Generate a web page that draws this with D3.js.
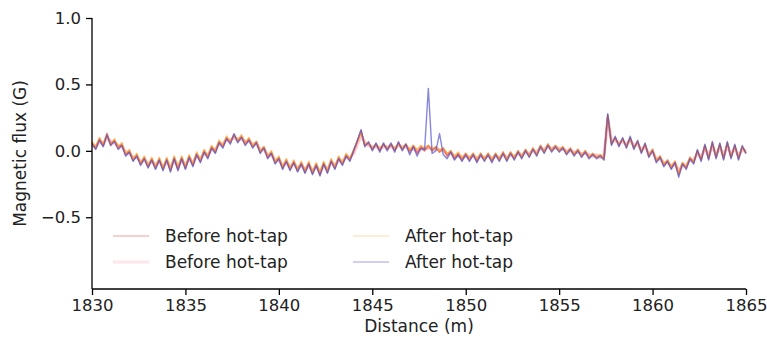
<!DOCTYPE html>
<html>
<head>
<meta charset="utf-8">
<script src="https://cdn.jsdelivr.net/npm/d3@7"></script>
<style>
  body { margin: 0; background: #fff; }
  svg { display: block; font-family: "DejaVu Sans", sans-serif; }
</style>
</head>
<body>
<div id="chart"></div>
<script>
// distance grid: first sample, spacing (m)
var startDist = 1830.0, stepDist = 0.2;

var xTicks = [1830, 1835, 1840, 1845, 1850, 1855, 1860, 1865];
var yTicks = [-0.5, 0.0, 0.5, 1.0];

var seriesNames = ["Before hot-tap", "Before hot-tap", "After hot-tap", "After hot-tap"];

// one value per 0.2 m
var before1 = [0.06,0.02,0.09,0.04,0.13,0.05,0.08,0.02,0.05,-0.03,
0.0,-0.07,-0.03,-0.10,-0.05,-0.12,-0.06,-0.13,-0.06,-0.14,
-0.06,-0.15,-0.05,-0.14,-0.05,-0.13,-0.04,-0.11,-0.02,-0.08,
0.0,-0.05,0.03,-0.01,0.07,0.03,0.10,0.06,0.12,0.07,
0.11,0.05,0.09,0.03,0.07,-0.01,0.03,-0.05,-0.01,-0.09,
-0.05,-0.13,-0.07,-0.14,-0.08,-0.15,-0.09,-0.16,-0.09,-0.17,
-0.10,-0.18,-0.09,-0.16,-0.07,-0.13,-0.05,-0.10,-0.03,-0.07,
0.0,0.07,0.15,0.04,0.06,0.01,0.05,0.0,0.05,0.01,
0.05,0.0,0.06,0.01,0.05,-0.01,0.04,-0.02,0.03,0.0,
0.04,0.0,0.03,-0.01,0.02,-0.04,0.0,-0.06,-0.02,-0.07,
-0.02,-0.07,-0.02,-0.08,-0.02,-0.07,-0.02,-0.08,-0.02,-0.07,
-0.01,-0.07,-0.01,-0.06,0.0,-0.05,0.01,-0.04,0.02,-0.03,
0.04,-0.01,0.05,0.0,0.04,0.0,0.03,-0.02,0.02,-0.03,
0.01,-0.04,0.0,-0.05,-0.02,-0.05,-0.03,-0.06,0.27,0.05,
0.10,0.04,0.09,0.03,0.10,0.02,0.07,-0.01,0.05,-0.04,
0.01,-0.08,-0.04,-0.11,-0.07,-0.13,-0.08,-0.18,-0.09,-0.13,
-0.05,-0.09,0.0,-0.07,0.04,-0.06,0.06,-0.05,0.05,-0.06,
0.06,-0.05,0.04,-0.06,0.03,-0.02];

var before2 = [0.04,0.03,0.07,0.05,0.10,0.07,0.06,0.04,0.03,-0.01,
-0.02,-0.05,-0.05,-0.08,-0.07,-0.10,-0.08,-0.11,-0.08,-0.12,
-0.08,-0.13,-0.07,-0.12,-0.07,-0.11,-0.06,-0.09,-0.04,-0.06,
-0.02,-0.03,0.01,0.01,0.05,0.05,0.08,0.08,0.10,0.09,
0.09,0.07,0.07,0.05,0.05,0.01,0.01,-0.03,-0.03,-0.07,
-0.07,-0.11,-0.09,-0.12,-0.10,-0.13,-0.11,-0.14,-0.11,-0.15,
-0.12,-0.16,-0.11,-0.14,-0.09,-0.11,-0.07,-0.08,-0.05,-0.05,
-0.02,0.05,0.12,0.06,0.04,0.03,0.03,0.02,0.03,0.03,
0.03,0.02,0.04,0.03,0.03,0.01,0.02,0.0,0.01,0.02,
0.02,0.02,0.01,0.01,0.0,-0.02,-0.02,-0.04,-0.04,-0.05,
-0.04,-0.05,-0.04,-0.06,-0.04,-0.05,-0.04,-0.06,-0.04,-0.05,
-0.03,-0.05,-0.03,-0.04,-0.02,-0.03,-0.01,-0.02,0.0,-0.01,
0.02,0.01,0.03,0.02,0.02,0.02,0.01,0.0,0.0,-0.01,
-0.01,-0.02,-0.02,-0.03,-0.04,-0.03,-0.05,-0.04,0.24,0.07,
0.08,0.06,0.07,0.05,0.08,0.04,0.05,0.01,0.03,-0.02,
-0.01,-0.06,-0.06,-0.09,-0.09,-0.11,-0.10,-0.15,-0.11,-0.11,
-0.07,-0.07,-0.02,-0.05,0.02,-0.04,0.04,-0.03,0.03,-0.04,
0.04,-0.03,0.02,-0.04,0.01,0.0];

var after1 = [0.07,0.03,0.10,0.05,0.12,0.04,0.09,0.03,0.06,-0.02,
0.01,-0.06,-0.02,-0.09,-0.04,-0.11,-0.05,-0.12,-0.05,-0.13,
-0.05,-0.13,-0.04,-0.12,-0.04,-0.12,-0.03,-0.10,-0.01,-0.07,
0.01,-0.04,0.04,0.0,0.08,0.04,0.11,0.07,0.12,0.08,
0.12,0.06,0.10,0.04,0.07,0.0,0.03,-0.04,0.0,-0.08,
-0.04,-0.12,-0.06,-0.13,-0.07,-0.14,-0.08,-0.15,-0.08,-0.16,
-0.09,-0.16,-0.08,-0.15,-0.06,-0.12,-0.04,-0.09,-0.02,-0.06,
0.01,0.07,0.14,0.05,0.06,0.02,0.05,0.02,0.05,0.02,
0.05,0.02,0.05,0.02,0.05,0.01,0.04,0.01,0.04,0.02,
0.04,0.01,0.03,0.0,0.02,-0.02,0.0,-0.04,-0.01,-0.05,
-0.02,-0.05,-0.02,-0.06,-0.02,-0.06,-0.02,-0.06,-0.02,-0.06,
-0.01,-0.06,-0.01,-0.05,0.0,-0.05,0.01,-0.04,0.02,-0.03,
0.04,-0.01,0.05,0.0,0.04,0.0,0.03,-0.02,0.02,-0.03,
0.01,-0.04,0.0,-0.05,-0.02,-0.05,-0.03,-0.06,0.26,0.06,
0.10,0.05,0.09,0.03,0.09,0.02,0.07,-0.01,0.05,-0.04,
0.01,-0.07,-0.04,-0.10,-0.07,-0.12,-0.08,-0.17,-0.09,-0.12,
-0.05,-0.08,0.0,-0.06,0.04,-0.05,0.06,-0.04,0.05,-0.05,
0.06,-0.04,0.04,-0.05,0.03,-0.01];

var after2 = [0.05,0.01,0.08,0.03,0.12,0.04,0.07,0.01,0.04,-0.04,
-0.01,-0.08,-0.04,-0.11,-0.06,-0.13,-0.07,-0.14,-0.07,-0.15,
-0.07,-0.16,-0.06,-0.15,-0.06,-0.14,-0.05,-0.12,-0.03,-0.09,
-0.01,-0.06,0.02,-0.02,0.06,0.02,0.09,0.05,0.13,0.06,
0.10,0.04,0.08,0.02,0.06,-0.02,0.02,-0.06,-0.02,-0.10,
-0.06,-0.14,-0.08,-0.15,-0.09,-0.16,-0.10,-0.17,-0.10,-0.18,
-0.11,-0.19,-0.10,-0.17,-0.08,-0.14,-0.06,-0.11,-0.04,-0.08,
0.0,0.08,0.16,0.03,0.07,0.0,0.06,-0.01,0.06,0.0,
0.06,-0.01,0.07,0.0,0.05,-0.03,0.03,-0.04,0.02,0.01,
0.47,-0.02,0.0,0.13,-0.03,-0.06,-0.01,-0.07,-0.03,-0.08,
-0.03,-0.08,-0.03,-0.09,-0.03,-0.08,-0.03,-0.09,-0.03,-0.08,
-0.02,-0.08,-0.02,-0.07,-0.01,-0.06,0.0,-0.05,0.01,-0.04,
0.03,-0.02,0.04,-0.01,0.03,-0.01,0.02,-0.03,0.01,-0.04,
0.0,-0.05,-0.01,-0.06,-0.03,-0.06,-0.04,-0.07,0.28,0.04,
0.11,0.03,0.10,0.02,0.11,0.01,0.08,-0.02,0.06,-0.05,
0.0,-0.09,-0.05,-0.12,-0.08,-0.14,-0.09,-0.20,-0.10,-0.14,
-0.06,-0.10,0.01,-0.08,0.05,-0.07,0.07,-0.06,0.06,-0.07,
0.07,-0.06,0.05,-0.07,0.04,-0.02];

var allSeries = [before1, before2, after1, after2];
var lineColors = ["#d0302c", "#ff5a78", "#ff9a1a", "#4848c8"];
var lineWidths = [1.7, 3.2, 1.7, 1.4];
var lineAlpha = [0.6, 0.35, 0.6, 0.65];
var legendAlpha = [0.3, 0.15, 0.25, 0.35];

var W = 767, H = 339;
var margin = {top: 18, right: 21, bottom: 50, left: 92},
    width = W - margin.left - margin.right,
    height = H - margin.top - margin.bottom;

var svg = d3.select("#chart").append("svg")
    .attr("width", W)
    .attr("height", H)
  .append("g")
    .attr("transform", "translate(" + margin.left + "," + margin.top + ")");

var x = d3.scaleLinear().domain([1830, 1865]).range([0, width]);
var y = d3.scaleLinear().domain([-1.04, 1.0]).range([height, 0]);

var lineFunc = d3.line()
    .x(function(d, i) { return x(startDist + i * stepDist); })
    .y(function(d) { return y(d); });

// draw the traces, blue last so the spike sits on top
var drawOrder = [1, 0, 2, 3];
drawOrder.forEach(function(k) {
    svg.append("path")
        .datum(allSeries[k])
        .attr("d", lineFunc)
        .attr("fill", "none")
        .attr("stroke", lineColors[k])
        .attr("stroke-width", lineWidths[k])
        .attr("stroke-opacity", lineAlpha[k])
        .attr("stroke-linejoin", "round");
});

// x axis
var xAxis = d3.axisBottom(x).tickValues(xTicks).tickFormat(d3.format("d")).tickSize(6).tickPadding(4);
var gx = svg.append("g")
    .attr("transform", "translate(0," + height + ")")
    .call(xAxis);
gx.select(".domain").attr("d", "M0,0H" + width);

// y axis
var yAxis = d3.axisLeft(y).tickValues(yTicks).tickFormat(function(d) {
    return d3.format(".1f")(d).replace("-", "\u2212");
}).tickSize(6).tickPadding(5);
var gy = svg.append("g").call(yAxis);
gy.select(".domain").attr("d", "M0," + y(1.0) + "V" + height);

svg.selectAll(".domain").attr("stroke", "#000").attr("stroke-width", 1.3);
svg.selectAll(".tick line").attr("stroke", "#000").attr("stroke-width", 1.3);
svg.selectAll(".tick text").attr("fill", "#222").style("font-size", "16.5px")
    .style("font-family", "DejaVu Sans, sans-serif");

// axis labels
svg.append("text")
    .attr("x", width / 2)
    .attr("y", height + 43)
    .attr("text-anchor", "middle")
    .style("font-size", "17px")
    .attr("fill", "#222")
    .text("Distance (m)");

svg.append("text")
    .attr("transform", "rotate(-90)")
    .attr("x", -height / 2)
    .attr("y", -66)
    .attr("text-anchor", "middle")
    .style("font-size", "17px")
    .attr("fill", "#222")
    .text("Magnetic flux (G)");

// legend, two columns, no frame
var legendPos = [[21, 218], [21, 244], [261, 218], [261, 244]];
seriesNames.forEach(function(name, k) {
    var g = svg.append("g").attr("transform", "translate(" + legendPos[k][0] + "," + legendPos[k][1] + ")");
    g.append("line")
        .attr("x1", 0).attr("x2", 36)
        .attr("stroke", lineColors[k])
        .attr("stroke-width", lineWidths[k])
        .attr("stroke-opacity", legendAlpha[k]);
    g.append("text")
        .attr("x", 52)
        .attr("dy", "0.35em")
        .style("font-size", "17px")
        .attr("fill", "#222")
        .text(name);
});
</script>
</body>
</html>
